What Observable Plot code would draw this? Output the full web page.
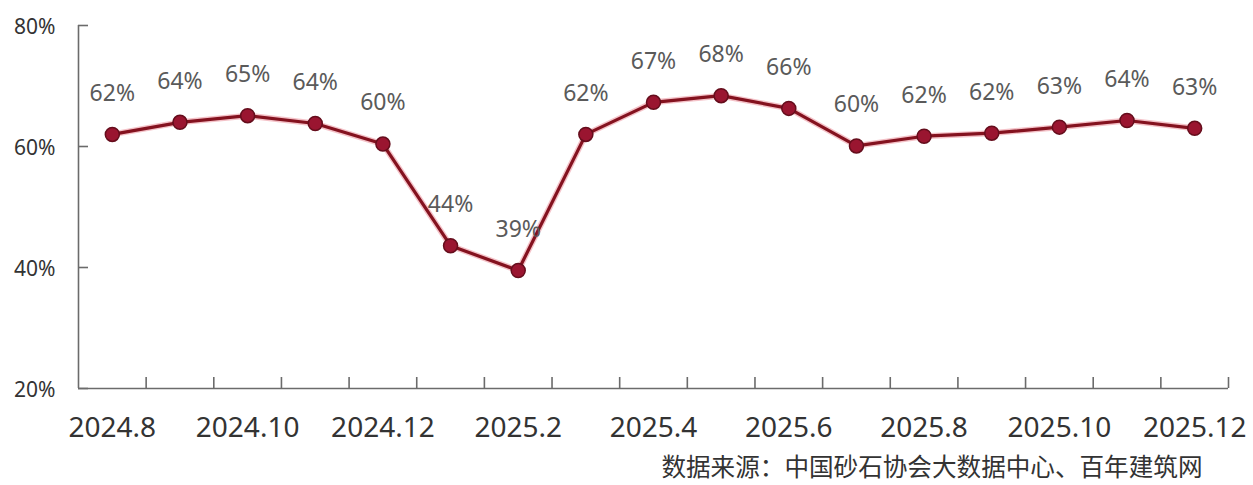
<!DOCTYPE html>
<html>
<head>
<meta charset="utf-8">
<script src="https://cdn.jsdelivr.net/npm/d3@7"></script>
<script src="https://cdn.jsdelivr.net/npm/@observablehq/plot@0.6"></script>
<style>
  html, body { margin: 0; padding: 0; background: #fff; }
  #chart svg { display: block; }
</style>
</head>
<body>
<div id="chart"></div>
<script>
const months = ["2024.8","2024.9","2024.10","2024.11","2024.12","2025.1","2025.2","2025.3","2025.4","2025.5","2025.6","2025.7","2025.8","2025.9","2025.10","2025.11","2025.12"];
const values = [62.0, 64.0, 65.1, 63.8, 60.4, 43.6, 39.5, 62.0, 67.3, 68.4, 66.3, 60.1, 61.7, 62.2, 63.2, 64.3, 63.0];
const valueLabels = ["62%","64%","65%","64%","60%","44%","39%","62%","67%","68%","66%","60%","62%","62%","63%","64%","63%"];
const yTicks = [20, 40, 60, 80];
const yTickLabels = ["20%","40%","60%","80%"];
const source = "数据来源：中国砂石协会大数据中心、百年建筑网";

const data = months.map((m, i) => ({i, m, v: values[i], label: valueLabels[i]}));
const labelIdx = months.map((_, i) => i).filter(i => i % 2 === 0);
const boundaries = d3.range(-0.5, months.length, 1);

const axisColor = "#6b6b6b";
const lineColor = "#84121f";

const chart = Plot.plot({
  width: 1253,
  height: 485,
  marginLeft: 78,
  marginRight: 25,
  marginTop: 25,
  marginBottom: 97,
  style: {fontFamily: "'Noto Sans', sans-serif", background: "#fff"},
  x: {type: "linear", domain: [-0.5, months.length - 0.5], axis: null},
  y: {domain: [20, 80], axis: null},
  marks: [
    Plot.ruleX([-0.5], {y1: 20, y2: 80, stroke: axisColor, strokeWidth: 1.6}),
    Plot.ruleY([20], {x1: -0.5, x2: months.length - 0.5, stroke: axisColor, strokeWidth: 1.6}),
    Plot.tickY(yTicks, {y: d => d, stroke: axisColor, strokeWidth: 1.6, insetRight: 1140}),
    Plot.ruleX(boundaries.slice(1), {x: d => d, y1: 20, y2: 20, stroke: axisColor, strokeWidth: 1.6, insetTop: -11}),
    Plot.text(yTicks, {y: d => d, text: (d, i) => yTickLabels[i], frameAnchor: "left", dx: -23, dy: 2, textAnchor: "end", fontSize: 21, fill: "#333"}),
    Plot.text(labelIdx, {x: d => d, text: d => months[d], frameAnchor: "bottom", dy: 40, lineAnchor: "middle", fontSize: 28, fill: "#333"}),
    Plot.line(data, {x: "i", y: "v", stroke: "#e05060", strokeWidth: 6, strokeOpacity: 0.35}),
    Plot.line(data, {x: "i", y: "v", stroke: lineColor, strokeWidth: 3.2}),
    Plot.dot(data, {x: "i", y: "v", r: 7, fill: "#9a1530", stroke: "#650d1c", strokeWidth: 1.5}),
    Plot.text(data, {x: "i", y: "v", text: "label", dy: -41, lineAnchor: "middle", fontSize: 23, fill: "#5a5a5a"}),
    Plot.text([source], {frameAnchor: "bottom-right", dx: -26, dy: 80, textAnchor: "end", lineAnchor: "middle", fontSize: 24.6, fill: "#333", fontFamily: "'Noto Sans CJK SC', sans-serif"})
  ]
});
document.getElementById("chart").appendChild(chart);
</script>
</body>
</html>
